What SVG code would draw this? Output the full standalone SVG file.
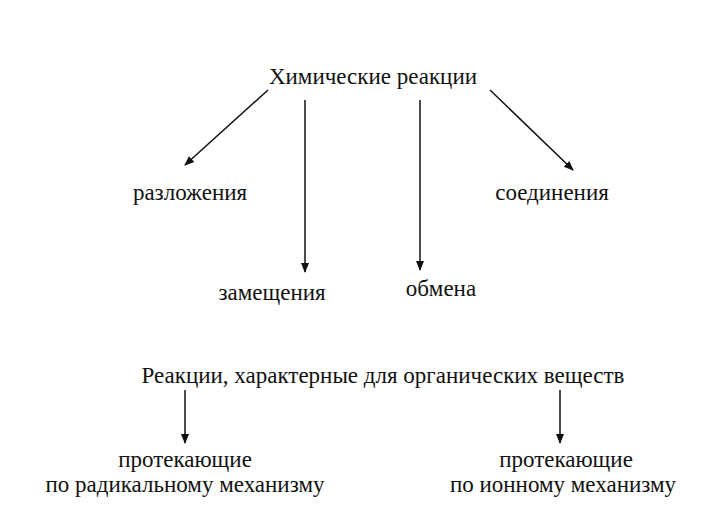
<svg xmlns="http://www.w3.org/2000/svg" width="718" height="514" viewBox="0 0 718 514">
<style>text{font-family:"Liberation Serif",serif;font-size:23px;fill:#111;text-anchor:middle}line{stroke:#111;stroke-width:1.5}</style>
<defs><marker id="a" markerWidth="10" markerHeight="10" refX="9" refY="5" orient="auto" markerUnits="userSpaceOnUse"><path d="M0,1 L10,5 L0,9 Z" fill="#111"/></marker></defs>
<rect width="718" height="514" fill="#fff"/>
<g id="n1"><text x="373" y="84">Химические реакции</text></g>
<g id="n2"><text x="190" y="200">разложения</text></g>
<g id="n3"><text x="552" y="200">соединения</text></g>
<g id="n4"><text x="272" y="300">замещения</text></g>
<g id="n5"><text x="441" y="296">обмена</text></g>
<g id="n6"><text x="383" y="383">Реакции, характерные для органических веществ</text></g>
<g id="n7"><text x="185" y="467">протекающие</text><text x="185" y="492">по радикальному механизму</text></g>
<g id="n8"><text x="566" y="467">протекающие</text><text x="563" y="492">по ионному механизму</text></g>
<g id="edges" marker-end="url(#a)">
<line x1="268" y1="90" x2="185" y2="165"/>
<line x1="305" y1="100" x2="305" y2="272"/>
<line x1="420" y1="100" x2="420" y2="270"/>
<line x1="490" y1="90" x2="573" y2="170"/>
<line x1="185" y1="390" x2="185" y2="443"/>
<line x1="560" y1="390" x2="560" y2="443"/>
</g>
</svg>
